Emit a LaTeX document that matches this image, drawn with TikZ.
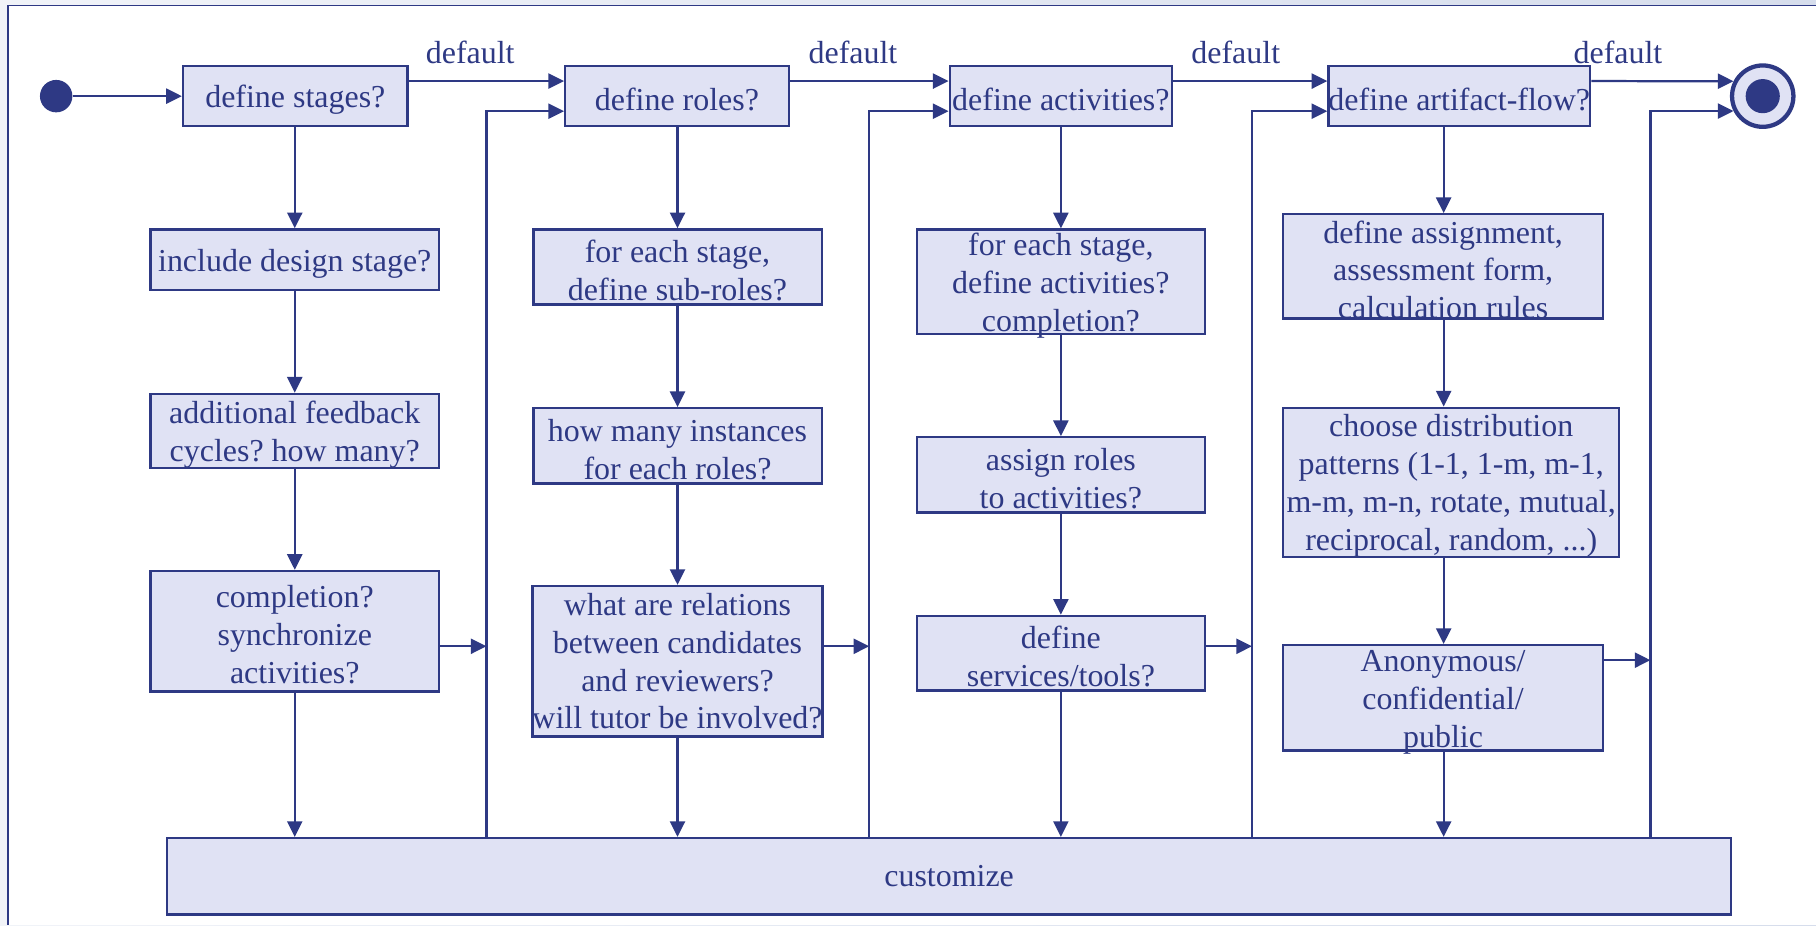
\documentclass[tikz,border=0pt]{standalone}
\usepackage{fontspec}
\setmainfont{Liberation Serif}
\usepackage{tikz}
\usetikzlibrary{arrows.meta,calc}

\definecolor{umlblue}{RGB}{46,57,132}
\definecolor{umlfill}{RGB}{224,226,244}
\definecolor{umlback}{RGB}{214,221,236}
\newcommand{\lift}{\rule{0pt}{14.5pt}}
\frenchspacing

\begin{document}
\begin{tikzpicture}[x=0.02cm, y=-0.02cm,
	box/.style={draw=umlblue, fill=umlfill, line width=1.15pt, text=umlblue, align=center, inner xsep=0pt, inner ysep=-12pt, font=\fontsize{15.7}{18.6}\selectfont},
	flow/.style={draw=umlblue, line width=1.1pt, -{Triangle[length=0.27cm,width=0.26cm]}},
	dflt/.style={text=umlblue, inner sep=0pt, font=\fontsize{15.7}{18.6}\selectfont}]
	\useasboundingbox (0,0) rectangle (1568,799);
	\fill[left color=umlback!35!white, right color=umlback] (0,0) rectangle (1568,799);
	\fill[white] (7,5) rectangle (1568,799);
	\draw[umlblue, line width=0.6pt] (1568,5) -- (7,5) -- (7,799);

	\node[circle, fill=umlblue, minimum size=0.56cm, inner sep=0pt] (start) at (48.5,83) {};
	\node[circle, draw=umlblue, fill=umlfill, line width=2.1pt, minimum size=1.06cm, inner sep=0pt] (finish) at (1522,83) {};
	\node[circle, fill=umlblue, minimum size=0.59cm, inner sep=0pt] (dot) at (finish) {};

	\node[box, minimum width=3.88cm, minimum height=1.03cm] (stages) at (255,83) {\lift define stages?};
	\node[box, minimum width=4.98cm, minimum height=1.05cm] (design) at (254.5,224.3) {\lift include design stage?};
	\node[box, minimum width=4.98cm, minimum height=1.28cm] (feedback) at (254.5,372) {\lift additional feedback\\cycles? how many?};
	\node[box, minimum width=4.98cm, minimum height=2.08cm] (sync) at (254.5,545) {\lift completion?\\synchronize\\activities?};

	\node[box, minimum width=3.86cm, minimum height=1.03cm] (roles) at (584.5,83) {\lift define roles?};
	\node[box, minimum width=4.98cm, minimum height=1.30cm] (subroles) at (585,230.5) {\lift for each stage,\\define sub-roles?};
	\node[box, minimum width=4.98cm, minimum height=1.30cm] (instances) at (585,385) {\lift how many instances\\for each roles?};
	\node[box, minimum width=4.98cm, minimum height=2.60cm] (relations) at (585,571) {what are relations\\between candidates\\and reviewers?\\will tutor be involved?};

	\node[box, minimum width=3.84cm, minimum height=1.03cm] (activities) at (916,83) {\lift define activities?};
	\node[box, minimum width=4.97cm, minimum height=1.81cm] (stageact) at (916,243.4) {\lift for each stage,\\define activities?\\completion?};
	\node[box, minimum width=4.97cm, minimum height=1.30cm] (assign) at (916,410) {\lift assign roles\\to activities?};
	\node[box, minimum width=4.97cm, minimum height=1.29cm] (services) at (916,564) {\lift define\\services/tools?};

	\node[box, minimum width=4.40cm, minimum height=1.03cm] (flow) at (1260,83) {\lift define artifact-flow?};
	\node[box, minimum width=5.52cm, minimum height=1.80cm] (assignment) at (1246,230) {\lift define assignment,\\assessment form,\\calculation rules};
	\node[box, minimum width=5.80cm, minimum height=2.58cm] (distrib) at (1253,416.5) {\lift choose distribution\\patterns (1-1, 1-m, m-1,\\m-m, m-n, rotate, mutual,\\reciprocal, random, ...)};
	\node[box, minimum width=5.52cm, minimum height=1.82cm] (anonym) at (1246,602.5) {\lift Anonymous/\\confidential/\\public};

	\node[box, minimum width=27.02cm, minimum height=1.32cm] (custom) at (819.5,756.6) {customize};

	\foreach \n/\x in {d1/406,d2/736.5,d3/1067,d4/1397}
		\node[dflt] (\n) at (\x,45) {default};

	\coordinate (c1) at (254.5,0);
	\coordinate (c2) at (585,0);
	\coordinate (c3) at (916,0);
	\coordinate (c4) at (1246.5,0);
	\coordinate (r1) at (420,558);
	\coordinate (r2) at (750.5,558);
	\coordinate (r3) at (1081,558);
	\coordinate (r4) at (1425,570);

	\draw[flow] (start) -- (stages);
	\foreach \a/\b/\c in {stages/design/c1, design/feedback/c1, feedback/sync/c1, sync/custom/c1,
		roles/subroles/c2, subroles/instances/c2, instances/relations/c2, relations/custom/c2,
		activities/stageact/c3, stageact/assign/c3, assign/services/c3, services/custom/c3,
		flow/assignment/c4, assignment/distrib/c4, distrib/anonym/c4, anonym/custom/c4}
		\draw[flow] (\a.south -| \c) -- (\b.north -| \c);

	\foreach \a/\b in {stages/roles, roles/activities, activities/flow}
		\draw[flow] ($(\a.east)+(0,-13)$) -- ($(\b.west)+(0,-13)$);
	\draw[flow] ($(flow.east)+(0,-13)$) -- (finish.153);

	\foreach \a/\r in {sync/r1, relations/r2, services/r3, anonym/r4}
		\draw[flow] (\a.east |- \r) -- (\r);

	\foreach \r/\b in {r1/roles, r2/activities, r3/flow}
		\draw[flow] (custom.north -| \r) |- ($(\b.west)+(0,13)$);
	\draw[flow] (custom.north -| r4) |- (finish.207);
\end{tikzpicture}
\end{document}
